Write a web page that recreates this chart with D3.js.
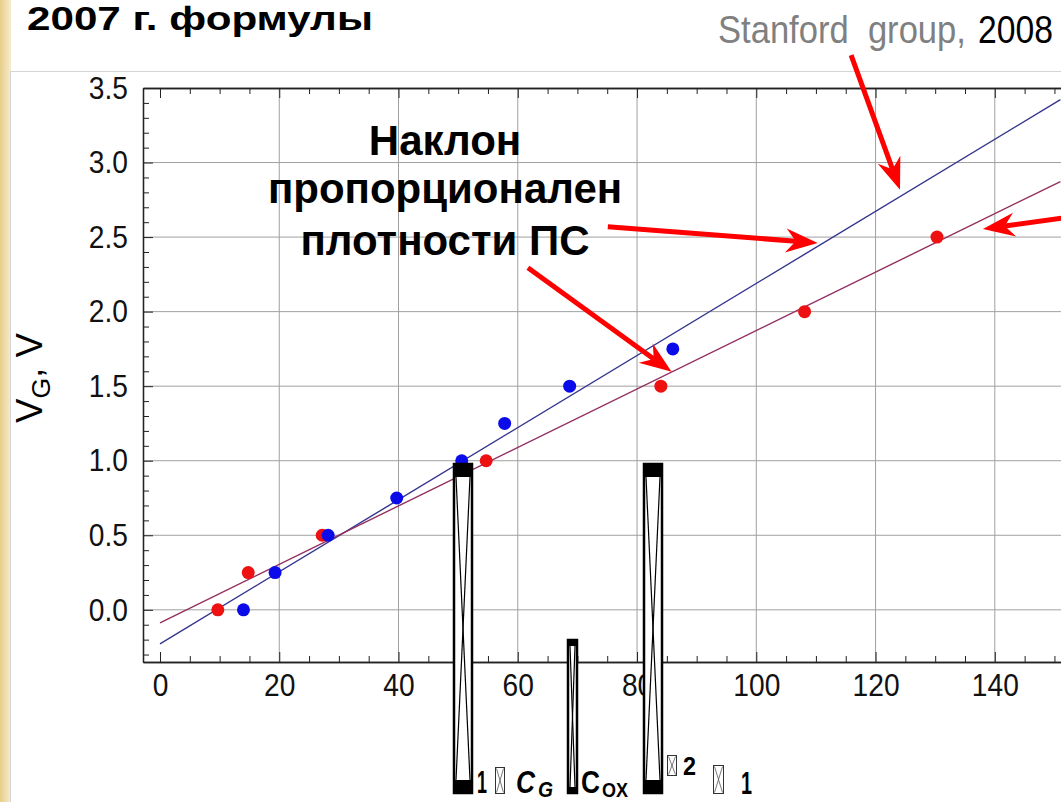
<!DOCTYPE html>
<html>
<head>
<meta charset="utf-8">
<script src="https://cdn.jsdelivr.net/npm/d3@7"></script>
<style>
  body { margin: 0; background: #fff; }
  svg { display: block; }
</style>
</head>
<body>
<svg id="chart" width="1061" height="802"></svg>
<script>
// Stanford group data (blue) and second data set (red), V_G vs x
const stanfordX = [14, 19.3, 28.2, 39.7, 50.6, 57.8, 68.7, 86];
const stanfordV = [0, 0.25, 0.5, 0.75, 1.0, 1.25, 1.5, 1.75];
const otherX = [9.7, 14.8, 27.2, 54.7, 84, 108.1, 130.3];
const otherV = [0, 0.25, 0.5, 1.0, 1.5, 2.0, 2.5];

// straight-line fits [intercept, slope]
const stanfordFit = [-0.228, 0.02417];
const otherFit = [-0.087, 0.0196];
const fitRange = [0, 151];

const xTicks = [0, 20, 40, 60, 80, 100, 120, 140];
const yTicks = [0, 0.5, 1.0, 1.5, 2.0, 2.5, 3.0, 3.5];

// annotation arrows, [tailX, tailV, tipX, tipV] in data units
const arrows = [
    [115.9, 3.72, 124.1, 2.817],
    [75.1, 2.569, 110.3, 2.461],
    [61.7, 2.294, 85.8, 1.596],
    [151.7, 2.629, 138.0, 2.555]
];
const noteLines = ["Наклон", "пропорционален", "плотности ПС"];

const SANS = "'Liberation Sans', Arial, sans-serif";

const svg = d3.select("#chart");

// squeeze a text horizontally (the original uses a condensed face)
function condense(sel, k) {
    sel.each(function() {
        const w = this.getComputedTextLength();
        d3.select(this).attr("textLength", w * k).attr("lengthAdjust", "spacingAndGlyphs");
    });
}
// text stretched to a given width with a transform, so its box stays true
function fitText(tx, ty, str, width, color, size, weight) {
    const t = svg.append("text").attr("fill", color).style("white-space", "pre")
        .style("font-family", SANS).style("font-size", size + "px")
        .style("font-weight", weight || "normal").text(str);
    const k = width / t.node().getComputedTextLength();
    t.attr("transform", `translate(${tx},${ty}) scale(${k},1)`);
    return t;
}

// slide decoration: gold strip on the left, border of the pasted picture
const defs = svg.append("defs");
const grad = defs.append("linearGradient").attr("id", "gold").attr("x1", 0).attr("x2", 1);
grad.append("stop").attr("offset", 0).attr("stop-color", "#e8cd88");
grad.append("stop").attr("offset", 1).attr("stop-color", "#f7ecd0");
svg.append("rect").attr("x", 0).attr("y", 0).attr("width", 11).attr("height", 802).attr("fill", "url(#gold)");
svg.append("rect").attr("x", 10.5).attr("y", 71.5).attr("width", 1100).attr("height", 800)
    .attr("fill", "#fff").attr("stroke", "#d4d4d4");

fitText(27, 30, "2007 г. формулы", 346, "#000", 33, "bold");
fitText(718, 43, "Stanford  group,", 248, "#808080", 39);
fitText(978, 43, "2008", 75, "#000", 39);

// plot frame
const x = d3.scaleLinear().domain([-2.85, 151.1]).range([143, 1061]);
const y = d3.scaleLinear().domain([-0.35, 3.5]).range([662, 88]);
const pLeft = 143, pRight = 1061, pTop = 88, pBottom = 662;

const minorX = d3.range(0, 151, 5).filter(d => d % 20 !== 0);
const minorY = d3.range(-3, 36).map(d => d / 10).filter(d => Math.round(d * 10) % 5 !== 0);

// grid
const grid = svg.append("g");
grid.selectAll("line.gx").data(xTicks.filter(d => d > 0)).join("line")
    .attr("x1", d => x(d)).attr("x2", d => x(d)).attr("y1", pTop).attr("y2", pBottom)
    .attr("stroke", "#a0a0a0").attr("stroke-width", 1);
grid.selectAll("line.gy").data(yTicks.filter(d => d < 3.5)).join("line")
    .attr("x1", pLeft).attr("x2", pRight).attr("y1", d => y(d)).attr("y2", d => y(d))
    .attr("stroke", "#a0a0a0").attr("stroke-width", 1);

function styleAxis(g) {
    g.select(".domain").attr("stroke", "#222").attr("stroke-width", 1.3);
    g.selectAll(".tick line").attr("stroke", "#222");
    g.selectAll("text")
        .style("font-family", SANS).style("font-size", "32px").attr("fill", "#111")
        .call(condense, 0.88);
}

svg.append("g").attr("transform", `translate(0,${pBottom})`)
    .call(d3.axisBottom(x).tickValues(minorX).tickSize(-6).tickSizeOuter(0).tickFormat(""))
    .call(styleAxis);
svg.append("g").attr("transform", `translate(0,${pBottom})`)
    .call(d3.axisBottom(x).tickValues(xTicks).tickSize(-10).tickSizeOuter(0).tickPadding(11).tickFormat(d3.format("d")))
    .call(styleAxis);
svg.append("g").attr("transform", `translate(0,${pTop})`)
    .call(d3.axisTop(x).tickValues(minorX).tickSize(-6).tickSizeOuter(0).tickFormat(""))
    .call(styleAxis);
svg.append("g").attr("transform", `translate(0,${pTop})`)
    .call(d3.axisTop(x).tickValues(xTicks).tickSize(-10).tickSizeOuter(0).tickFormat(""))
    .call(styleAxis);
svg.append("g").attr("transform", `translate(${pLeft},0)`)
    .call(d3.axisLeft(y).tickValues(minorY).tickSize(-6).tickSizeOuter(0).tickFormat(""))
    .call(styleAxis);
svg.append("g").attr("transform", `translate(${pLeft},0)`)
    .call(d3.axisLeft(y).tickValues(yTicks).tickSize(-10).tickSizeOuter(0).tickPadding(15).tickFormat(d3.format(".1f")))
    .call(styleAxis);

// y axis title
const yt = svg.append("text").attr("transform", "translate(42,423) rotate(-90)")
    .attr("textLength", 90).attr("lengthAdjust", "spacingAndGlyphs")
    .style("font-family", SANS).style("font-size", "36px");
yt.append("tspan").text("V");
yt.append("tspan").attr("dy", 8).style("font-size", "26px").text("G");
yt.append("tspan").attr("dy", -8).text(", V");

// fitted lines
const line = d3.line().x(d => x(d[0])).y(d => y(d[1]));
const fitPts = f => fitRange.map(t => [t, f[0] + f[1] * t]);
svg.append("path").attr("d", line(fitPts(stanfordFit)))
    .attr("fill", "none").attr("stroke", "#34348e").attr("stroke-width", 1.4);
svg.append("path").attr("d", line(fitPts(otherFit)))
    .attr("fill", "none").attr("stroke", "#93305f").attr("stroke-width", 1.4);

// data points
svg.append("g").selectAll("circle").data(d3.zip(otherX, otherV)).join("circle")
    .attr("cx", d => x(d[0])).attr("cy", d => y(d[1])).attr("r", 6.5).attr("fill", "#ee1111");
svg.append("g").selectAll("circle").data(d3.zip(stanfordX, stanfordV)).join("circle")
    .attr("cx", d => x(d[0])).attr("cy", d => y(d[1])).attr("r", 6.5).attr("fill", "#0b0bea");

// annotation text
svg.append("g").selectAll("text").data(noteLines).join("text")
    .attr("x", 445).attr("y", (d, i) => [155, 203, 255][i]).attr("text-anchor", "middle")
    .style("font-family", SANS).style("font-weight", "bold").style("font-size", "42px")
    .text(d => d);

// red arrows
const ag = svg.append("g");
arrows.forEach(a => {
    const x1 = x(a[0]), y1 = y(a[1]), x2 = x(a[2]), y2 = y(a[3]);
    const len = Math.hypot(x2 - x1, y2 - y1);
    const ux = (x2 - x1) / len, uy = (y2 - y1) / len;
    const px = -uy, py = ux;
    const hl = 32, hw = 12, notch = 22;
    ag.append("line").attr("x1", x1).attr("y1", y1)
        .attr("x2", x2 - ux * notch).attr("y2", y2 - uy * notch)
        .attr("stroke", "#ff0000").attr("stroke-width", 5);
    const pts = [
        [x2, y2],
        [x2 - ux * hl + px * hw, y2 - uy * hl + py * hw],
        [x2 - ux * notch, y2 - uy * notch],
        [x2 - ux * hl - px * hw, y2 - uy * hl - py * hw]
    ];
    ag.append("polygon").attr("points", pts.map(p => p.join(",")).join(" ")).attr("fill", "#ff0000");
});

// broken formula at the bottom (missing glyph boxes)
const fg = svg.append("g");
function bigGlyph(gx, gy, w, h, cap) {
    fg.append("rect").attr("x", gx + 1).attr("y", gy).attr("width", w - 2).attr("height", h)
        .attr("fill", "#fff").attr("stroke", "#000").attr("stroke-width", 2.5);
    fg.append("rect").attr("x", gx).attr("y", gy).attr("width", w).attr("height", cap).attr("fill", "#000");
    fg.append("rect").attr("x", gx).attr("y", gy + h - cap).attr("width", w).attr("height", cap).attr("fill", "#000");
    fg.append("line").attr("x1", gx + 3).attr("y1", gy + cap).attr("x2", gx + w - 3).attr("y2", gy + h - cap)
        .attr("stroke", "#000").attr("stroke-width", 1.2);
    fg.append("line").attr("x1", gx + w - 3).attr("y1", gy + cap).attr("x2", gx + 3).attr("y2", gy + h - cap)
        .attr("stroke", "#000").attr("stroke-width", 1.2);
}
function smallGlyph(gx, gy, w, h) {
    fg.append("rect").attr("x", gx).attr("y", gy).attr("width", w).attr("height", h)
        .attr("fill", "#fff").attr("stroke", "#333").attr("stroke-width", 1);
    fg.append("path").attr("d", `M${gx + 1},${gy + 1}L${gx + w - 1},${gy + h - 1}M${gx + w - 1},${gy + 1}L${gx + 1},${gy + h - 1}`)
        .attr("stroke", "#555").attr("stroke-width", 0.8);
}
bigGlyph(453, 464, 20, 329, 13);
bigGlyph(567, 640, 11, 153, 6);
bigGlyph(643, 464, 20, 329, 13);
smallGlyph(495.5, 767.5, 9, 26);
smallGlyph(667.5, 755.5, 9, 20);
smallGlyph(713.5, 765.5, 10, 28);

const ftxt = (tx, ty, s, size, italic, w) => fg.append("text").attr("x", tx).attr("y", ty)
    .attr("textLength", w).attr("lengthAdjust", "spacingAndGlyphs")
    .style("font-family", SANS).style("font-weight", "bold").style("font-size", size + "px")
    .style("font-style", italic ? "italic" : "normal").text(s);
ftxt(477, 793, "1", 32, false, 10);
ftxt(516, 793, "C", 32, true, 19);
ftxt(538, 797, "G", 22, true, 15);
ftxt(581, 793, "C", 32, false, 19);
ftxt(602, 797, "OX", 20, false, 26);
ftxt(683, 775, "2", 26, false, 13);
ftxt(741, 794, "1", 32, false, 11);
</script>
</body>
</html>
